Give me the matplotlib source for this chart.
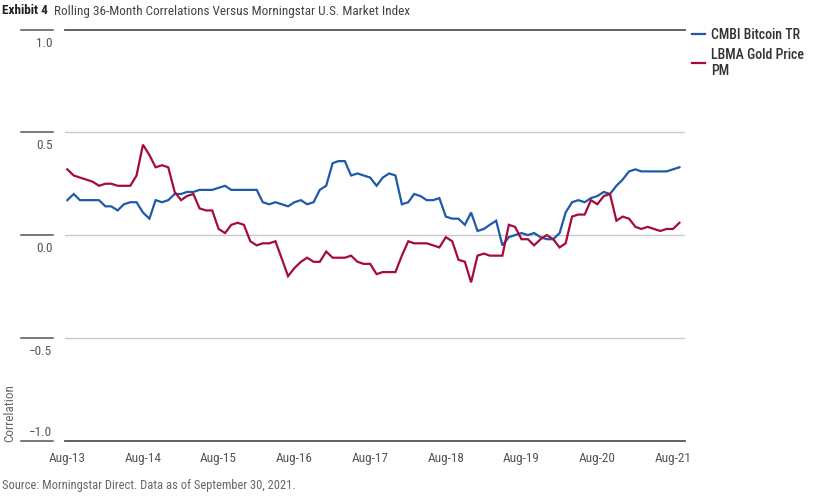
import matplotlib
matplotlib.use("Agg")
import matplotlib.pyplot as plt
import matplotlib.dates as mdates
import matplotlib.transforms as mtransforms
import pandas as pd
from matplotlib import font_manager

# ---------------- data ----------------
start_month = "2013-08-01"
bitcoin = [0.17, 0.20, 0.17, 0.17, 0.17, 0.17, 0.14, 0.14, 0.12, 0.15,
           0.16, 0.16, 0.11, 0.08, 0.17, 0.16, 0.17, 0.20, 0.20, 0.21,
           0.21, 0.22, 0.22, 0.22, 0.23, 0.24, 0.22, 0.22, 0.22, 0.22,
           0.22, 0.16, 0.15, 0.16, 0.15, 0.14, 0.16, 0.17, 0.15, 0.16,
           0.22, 0.24, 0.35, 0.36, 0.36, 0.29, 0.30, 0.29, 0.28, 0.24,
           0.28, 0.30, 0.29, 0.15, 0.16, 0.20, 0.19, 0.17, 0.17, 0.18,
           0.09, 0.08, 0.08, 0.05, 0.11, 0.02, 0.03, 0.05, 0.07, -0.05,
           -0.01, 0.00, 0.01, 0.00, 0.01, -0.01, -0.02, -0.02, 0.01, 0.11,
           0.16, 0.17, 0.16, 0.18, 0.19, 0.21, 0.20, 0.24, 0.27, 0.31,
           0.32, 0.31, 0.31, 0.31, 0.31, 0.31, 0.32, 0.33]
gold = [0.32, 0.29, 0.28, 0.27, 0.26, 0.24, 0.25, 0.25, 0.24, 0.24,
        0.24, 0.29, 0.44, 0.39, 0.33, 0.34, 0.33, 0.21, 0.17, 0.19,
        0.20, 0.13, 0.12, 0.12, 0.03, 0.01, 0.05, 0.06, 0.05, -0.03,
        -0.05, -0.04, -0.04, -0.03, -0.115, -0.20, -0.16, -0.13, -0.11, -0.13,
        -0.13, -0.08, -0.11, -0.11, -0.11, -0.10, -0.13, -0.14, -0.14, -0.19,
        -0.18, -0.18, -0.18, -0.10, -0.03, -0.04, -0.04, -0.04, -0.05, -0.06,
        -0.01, -0.03, -0.12, -0.13, -0.23, -0.10, -0.09, -0.10, -0.10, -0.10,
        0.05, 0.04, -0.02, -0.02, -0.05, -0.02, 0.00, -0.02, -0.06, -0.04,
        0.09, 0.10, 0.10, 0.17, 0.15, 0.19, 0.20, 0.07, 0.09, 0.08,
        0.04, 0.03, 0.04, 0.03, 0.02, 0.03, 0.03, 0.06]
series_names = ["CMBI Bitcoin TR", "LBMA Gold Price\nPM"]
y_ticks = [1.0, 0.5, 0.0, -0.5, -1.0]
y_tick_labels = ["1.0", "0.5", "0.0", "\u22120.5", "\u22121.0"]
x_tick_years = list(range(2013, 2022))
title_bold = "Exhibit 4"
title_text = "Rolling 36-Month Correlations Versus Morningstar U.S. Market Index"
source_text = "Source: Morningstar Direct. Data as of September 30, 2021."
y_label = "Correlation"

# ---------------- style ----------------
avail = {f.name for f in font_manager.fontManager.ttflist}
fam = [f for f in ["Liberation Sans Narrow", "Roboto Condensed", "Roboto", "DejaVu Sans"] if f in avail] + ["DejaVu Sans"]
plt.rcParams["font.family"] = fam

BLUE = "#1F5AA8"
RED = "#A50B3B"
GRID = "#C9C9C9"
DARK = "#555555"
TXT = "#555555"

W, H = 836, 497
fig = plt.figure(figsize=(W / 100, H / 100), dpi=100)
left_px, right_px, top_px, bot_px = 65, 685, 29.6, 440.6
ax = fig.add_axes([left_px / W, 1 - bot_px / H, (right_px - left_px) / W, (bot_px - top_px) / H])

dates = pd.date_range(start_month, periods=len(bitcoin), freq="MS")
ax.plot(dates, bitcoin, color=BLUE, lw=1.6, solid_joinstyle="miter", label=series_names[0], zorder=3)
ax.plot(dates, gold, color=RED, lw=1.6, solid_joinstyle="miter", label=series_names[1], zorder=3)

ax.set_ylim(-1, 1)
d0 = pd.Timestamp("2013-08-01")
d1 = pd.Timestamp("2021-08-01")
span = (d1 - d0).days
px_per_day = (673.0 - 67.3) / span
ax.set_xlim(d0 - pd.Timedelta(days=(67.3 - left_px) / px_per_day),
            d1 + pd.Timedelta(days=(right_px - 673.0) / px_per_day))

for s in ax.spines.values():
    s.set_visible(False)

# gridlines
for v in y_ticks:
    if abs(v) == 1.0:
        ax.axhline(v, color=DARK, lw=1.3, zorder=1, clip_on=False)
    else:
        ax.axhline(v, color=GRID, lw=1.0, zorder=1)

# y tick marks/labels on the left (Morningstar style)
ytr = ax.get_yaxis_transform()
x_a = (21 - left_px) / (right_px - left_px)
x_b = (52.5 - left_px) / (right_px - left_px)
off_below = mtransforms.offset_copy(ytr, fig=fig, x=0, y=-5, units="points")
off_above = mtransforms.offset_copy(ytr, fig=fig, x=0, y=1.5, units="points")
for v, lab in zip(y_ticks, y_tick_labels):
    ax.plot([x_a, x_b], [v, v], transform=ytr, color=DARK, lw=1.1, clip_on=False)
    if v == -1.0:
        ax.text(x_b, v, lab, transform=off_above, ha="right", va="bottom", fontsize=9.5, color=TXT)
    else:
        ax.text(x_b, v, lab, transform=off_below, ha="right", va="top", fontsize=9.5, color=TXT)
ax.set_yticks([])

# x ticks
ax.set_xticks([pd.Timestamp(f"{y}-08-01") for y in x_tick_years])
ax.xaxis.set_major_formatter(mdates.DateFormatter("%b-%y"))
ax.tick_params(axis="x", length=0, pad=8, labelsize=9.5, labelcolor=TXT)

# y label
fig.text(9.5 / W, 1 - 442 / H, y_label, rotation=90, ha="center", va="bottom", fontsize=9.5, color="#666666")

# titles
t1 = fig.text(2 / W, 1 - 11 / H, title_bold, fontsize=9.5, fontweight="bold", color="#222222", va="center", ha="left")
fig.canvas.draw()
bb = t1.get_window_extent()
fig.text((bb.x1 + 6) / W, 1 - 11 / H, title_text, fontsize=9.5, color="#444444", va="center", ha="left")

fig.text(2 / W, 1 - 486 / H, source_text, fontsize=9, color="#666666", va="center", ha="left")

# legend
leg = ax.legend(loc="upper left", bbox_to_anchor=((692 - left_px) / (right_px - left_px), 1 + (top_px - 28) / (bot_px - top_px)),
                frameon=False, handlelength=0.9, handletextpad=0.5, borderaxespad=0, borderpad=0,
                labelspacing=0.4, prop={"size": 10, "weight": "medium"})
for t in leg.get_texts():
    t.set_color("#333333")

fig.savefig("out.png", dpi=100)
